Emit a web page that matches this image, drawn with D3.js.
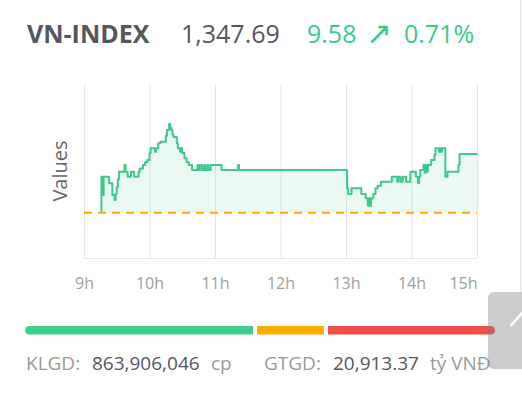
<!DOCTYPE html>
<html><head><meta charset="utf-8">
<script src="https://cdn.jsdelivr.net/npm/d3@7"></script>
<style>
html,body{margin:0;padding:0;background:#fff;}
svg{display:block;}
</style></head>
<body>
<svg id="c" width="522" height="399"></svg>
<script>
// ---- data ----
const indexName = "VN-INDEX";
const lastValue = 1347.69;
const change = 9.58;
const changePct = "0.71%";
const refValue = 1338.11;
const hourTicks = ["09:00","10:00","11:00","12:00","13:00","14:00","15:00"];
const hourLabels = ["9h","10h","11h","12h","13h","14h","15h"];
const times = ["09:15","09:16","09:17","09:18","09:22","09:23","09:26","09:28","09:29","09:30","09:31","09:32","09:35","09:37","09:38","09:40","09:42","09:43","09:45","09:46","09:48","09:50","09:51","09:54","09:56","09:58","10:00","10:01","10:03","10:05","10:06","10:08","10:10","10:14","10:15","10:16","10:17","10:18","10:19","10:20","10:21","10:22","10:25","10:26","10:28","10:29","10:30","10:32","10:34","10:36","10:39","10:42","10:44","10:45","10:46","10:48","10:50","10:51","10:53","10:54","10:56","10:59","11:06","11:20","11:21","11:22","13:00","13:01","13:02","13:05","13:13","13:14","13:18","13:20","13:21","13:22","13:23","13:25","13:27","13:29","13:32","13:41","13:42","13:46","13:47","13:48","13:50","13:52","13:55","13:59","14:03","14:04","14:06","14:07","14:08","14:11","14:12","14:13","14:14","14:15","14:18","14:21","14:22","14:25","14:26","14:27","14:28","14:29","14:31","14:33","14:42","14:43","14:44","15:00"];
const values = [1338.27,1343.95,1340.98,1343.95,1343.95,1342.90,1340.98,1340.17,1341.20,1342.33,1343.50,1344.77,1344.77,1345.85,1344.77,1343.95,1343.95,1344.77,1344.77,1343.95,1343.95,1344.77,1345.30,1345.85,1346.30,1346.67,1347.75,1348.56,1348.56,1348.00,1348.56,1349.38,1349.64,1349.64,1350.60,1351.54,1351.54,1352.51,1351.90,1351.54,1350.80,1350.40,1349.40,1348.56,1348.00,1348.56,1347.80,1346.94,1346.30,1345.85,1345.04,1345.04,1345.85,1345.04,1345.85,1345.04,1345.85,1345.04,1345.85,1345.04,1345.85,1345.85,1345.04,1345.04,1345.85,1345.04,1345.04,1342.07,1341.15,1342.07,1342.07,1341.15,1340.45,1339.25,1340.45,1339.25,1340.45,1341.15,1342.07,1342.50,1343.14,1343.14,1343.95,1343.95,1343.14,1343.95,1343.14,1343.95,1343.14,1344.77,1344.77,1343.95,1342.88,1343.95,1345.04,1345.85,1344.60,1345.85,1344.77,1345.85,1346.67,1347.48,1348.56,1348.00,1348.56,1348.00,1348.56,1348.56,1343.95,1344.77,1344.77,1345.85,1347.64,1347.69];
const volumeLabel = "KLGD:", volumeValue = "863,906,046", volumeUnit = "cp";
const tradeLabel = "GTGD:", tradeValue = "20,913.37", tradeUnit = "tỷ VNĐ";
const breadthCounts = [230, 71, 169]; // advancing, unchanged, declining (bar proportions)
const breadthColors = ["#3ccf8e", "#ffab00", "#ef4b4b"];

// ---- drawing ----
const svg = d3.select("#c");
const parse = d3.timeParse("%H:%M");
const data = times.map((t,i)=>({t:parse(t), v:values[i]}));
const plot = {l:84, r:477, t:84, b:258};
const x = d3.scaleTime().domain([parse("09:00"), parse("15:00")]).range([plot.l, plot.r]);
const y = d3.scaleLinear().domain([1330.76, 1359.0]).range([plot.b, plot.t]);

const font = "'Open Sans', sans-serif";
const green = "#3cc98a";

// header
svg.append("text").attr("x", 27).attr("y", 43).attr("font-family", font).attr("font-size", 25)
  .attr("font-weight", "bold").attr("fill", "#54575c").text(indexName);
svg.append("text").attr("x", 181).attr("y", 43).attr("font-family", font).attr("font-size", 25)
  .attr("fill", "#54575c").text(d3.format(",.2f")(lastValue));
svg.append("text").attr("x", 307).attr("y", 43).attr("font-family", font).attr("font-size", 25)
  .attr("fill", green).text(d3.format(".2f")(change));
svg.append("text").attr("x", 366).attr("y", 44).attr("font-family", font).attr("font-size", 31)
  .attr("fill", green).text("\u2197");
svg.append("text").attr("x", 404).attr("y", 43).attr("font-family", font).attr("font-size", 25)
  .attr("fill", green).text(changePct);

// gridlines + labels
const xAxis = d3.axisBottom(x).tickValues(hourTicks.map(parse))
  .tickFormat((d,i)=>hourLabels[i]).tickSize(-(plot.b-plot.t)).tickPadding(20);
const gx = svg.append("g").attr("transform", `translate(0,${plot.b})`).call(xAxis);
gx.select(".domain").remove();
gx.selectAll(".tick line").attr("stroke", "#e6e6e6");
gx.selectAll(".tick text").attr("font-family", font).attr("font-size", 16).attr("fill", "#a0a0a0");
gx.selectAll(".tick:last-of-type text").attr("text-anchor", "end");
svg.append("line").attr("x1", plot.l).attr("x2", plot.r).attr("y1", plot.b+0.5).attr("y2", plot.b+0.5)
  .attr("stroke", "#e6e6e6");

// y-axis title
svg.append("text").attr("transform", `translate(67,${(plot.t+plot.b)/2}) rotate(-90)`)
  .attr("text-anchor", "middle").attr("font-family", font).attr("font-size", 20)
  .attr("fill", "#666").text("Values");

// area + line
const area = d3.area().x(d=>x(d.t)).y0(y(refValue)).y1(d=>y(d.v)).curve(d3.curveStepAfter);
svg.append("path").datum(data).attr("d", area).attr("fill", "rgba(60,201,138,0.11)");
const line = d3.line().x(d=>x(d.t)).y(d=>y(d.v)).curve(d3.curveStepAfter);
svg.append("path").datum(data).attr("d", line).attr("fill", "none")
  .attr("stroke", green).attr("stroke-width", 2).attr("stroke-linejoin", "round");

// reference line
svg.append("line").attr("x1", plot.l).attr("x2", plot.r).attr("y1", y(refValue)).attr("y2", y(refValue))
  .attr("stroke", "#ffab00").attr("stroke-width", 2).attr("stroke-dasharray", "8,6");

// breadth bar
const total = d3.sum(breadthCounts);
const bx = d3.scaleLinear().domain([0, total]).range([25, 495]);
let acc = 0;
const segs = breadthCounts.map((c,i)=>{const s={a:acc,b:acc+c,i}; acc+=c; return s;});
const barY = 326, barH = 8.5, gap = 2;
segs.forEach(s=>{
  const x0 = bx(s.a) + (s.i>0?gap:0), x1 = bx(s.b) - (s.i<segs.length-1?gap:0);
  if (s.i===0 || s.i===segs.length-1) {
    const r = barH/2;
    let p;
    if (s.i===0) p = `M${x0+r},${barY} H${x1} V${barY+barH} H${x0+r} A${r},${r} 0 0 1 ${x0+r},${barY} Z`;
    else p = `M${x0},${barY} H${x1-r} A${r},${r} 0 0 1 ${x1-r},${barY+barH} H${x0} Z`;
    svg.append("path").attr("d", p).attr("fill", breadthColors[s.i]);
  } else {
    svg.append("rect").attr("x", x0).attr("y", barY).attr("width", x1-x0).attr("height", barH)
      .attr("fill", breadthColors[s.i]);
  }
});

// footer
const fy = 370, fs = 19;
const foot = [[26, volumeLabel, "#9a9a9a"],[92, volumeValue, "#54575c"],[211, volumeUnit, "#9a9a9a"],
  [264, tradeLabel, "#9a9a9a"],[333, tradeValue, "#54575c"],[430, tradeUnit, "#9a9a9a"]];
foot.forEach(f=>svg.append("text").attr("x", f[0]).attr("y", fy).attr("font-family", font)
  .attr("font-size", fs).attr("fill", f[2]).text(f[1]));

// scroll-to-top button overlay
svg.append("rect").attr("x", 488).attr("y", 292).attr("width", 50).attr("height", 77).attr("rx", 6)
  .attr("fill", "rgba(128,128,128,0.4)");
svg.append("line").attr("x1", 511.5).attr("y1", 325).attr("x2", 522).attr("y2", 313)
  .attr("stroke", "#fff").attr("stroke-width", 2.5).attr("stroke-linecap", "round");
// right edge border
svg.append("line").attr("x1", 520.5).attr("x2", 520.5).attr("y1", 0).attr("y2", 292)
  .attr("stroke", "#dfe7f1").attr("stroke-width", 1);
</script>
</body></html>
